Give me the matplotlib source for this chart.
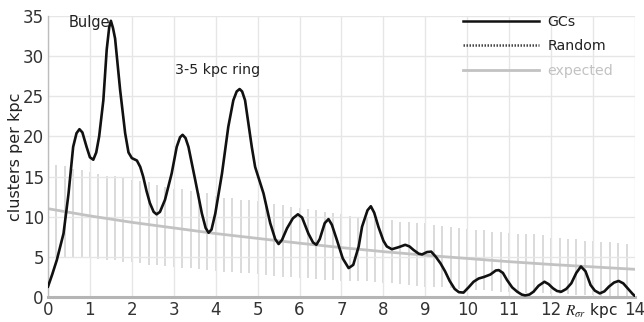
import numpy as np
import matplotlib
matplotlib.use("Agg")
import matplotlib.pyplot as plt
from matplotlib.lines import Line2D

plt.rcParams['font.family'] = ['DejaVu Sans']
plt.rcParams['mathtext.fontset'] = 'stix'

# GC radial distribution (clusters per kpc)
gc_r = [0.00, 0.10, 0.21, 0.37, 0.49, 0.60, 0.68, 0.75, 0.82, 0.92, 1.00, 1.08, 1.15, 1.22,
        1.32, 1.40, 1.46, 1.50, 1.55, 1.60, 1.66, 1.72, 1.84, 1.92, 2.00, 2.12, 2.20, 2.27,
        2.35, 2.43, 2.52, 2.59, 2.67, 2.79, 2.95, 3.07, 3.15, 3.21, 3.28, 3.35, 3.51, 3.67,
        3.76, 3.83, 3.90, 3.99, 4.15, 4.30, 4.42, 4.50, 4.57, 4.63, 4.70, 4.86, 4.94, 5.14,
        5.30, 5.42, 5.50, 5.58, 5.70, 5.84, 5.96, 6.06, 6.21, 6.32, 6.40, 6.48, 6.60, 6.69,
        6.77, 6.89, 7.03, 7.17, 7.28, 7.41, 7.49, 7.62, 7.70, 7.78, 7.88, 8.00, 8.08, 8.20,
        8.36, 8.52, 8.62, 8.72, 8.84, 8.92, 9.04, 9.14, 9.25, 9.36, 9.47, 9.58, 9.70, 9.80,
        9.91, 10.03, 10.15, 10.27, 10.40, 10.55, 10.68, 10.75, 10.85, 10.95, 11.07, 11.19,
        11.30, 11.38, 11.48, 11.58, 11.70, 11.84, 11.94, 12.04, 12.14, 12.24, 12.36, 12.48,
        12.60, 12.71, 12.82, 12.94, 13.04, 13.16, 13.27, 13.38, 13.50, 13.61, 13.72, 13.84,
        13.94, 14.00]
gc_n = [1.3, 2.8, 4.6, 7.9, 12.9, 18.7, 20.4, 20.9, 20.5, 18.7, 17.4, 17.1, 18.0, 20.0,
        24.5, 30.8, 33.6, 34.4, 33.5, 32.2, 29.0, 25.8, 20.4, 18.0, 17.3, 17.0, 16.2, 15.0,
        13.2, 11.7, 10.6, 10.3, 10.6, 12.1, 15.4, 18.7, 19.9, 20.2, 19.8, 18.7, 14.6, 10.4,
        8.6, 8.0, 8.4, 10.4, 15.4, 21.2, 24.5, 25.6, 25.9, 25.6, 24.5, 18.7, 16.2, 12.9,
        9.2, 7.2, 6.6, 7.1, 8.55, 9.8, 10.3, 9.9, 7.9, 6.8, 6.5, 7.2, 9.2, 9.7,
        9.0, 7.1, 4.8, 3.6, 4.0, 6.3, 8.75, 10.8, 11.3, 10.5, 8.75, 7.0, 6.3, 5.95,
        6.2, 6.5, 6.3, 5.85, 5.4, 5.3, 5.6, 5.65, 5.0, 4.2, 3.2, 2.0, 1.0, 0.6,
        0.55, 1.2, 1.9, 2.3, 2.5, 2.8, 3.3, 3.35, 3.0, 2.1, 1.2, 0.66,
        0.3, 0.2, 0.3, 0.66, 1.4, 1.9, 1.6, 1.1, 0.75, 0.65, 1.0, 1.7,
        3.0, 3.8, 3.2, 1.5, 0.8, 0.45, 0.7, 1.3, 1.8, 2.0, 1.7, 1.0,
        0.4, 0.1]

# expected (smooth) distribution read at integer radii
exp_r = [0, 1, 2, 3, 4, 5, 6, 7, 8, 9, 10, 11, 12, 13, 14]
exp_n = [11.0, 10.1, 9.3, 8.6, 7.9, 7.3, 6.7, 6.15, 5.65, 5.2, 4.8, 4.4, 4.05, 3.75, 3.45]

# random catalogue ranges (every 0.2 kpc from 0.2 to 13.8)
rand_r = np.round(np.arange(1, 70) * 0.2, 1)
rand_hi = [16.4, 16.3, 16.0, 15.8, 15.6, 15.3, 15.1, 15.1, 14.8, 14.6,
           14.4, 14.3, 13.9, 13.7, 13.5, 13.4, 13.2, 13.0, 12.9, 12.6,
           12.3, 12.3, 12.1, 12.1, 11.9, 11.7, 11.6, 11.5, 11.25, 11.1,
           10.9, 10.8, 10.6, 10.5, 10.3, 10.1, 10.0, 9.9, 9.7, 9.6,
           9.6, 9.4, 9.3, 9.2, 9.2, 9.0, 8.85, 8.7, 8.65, 8.5,
           8.4, 8.3, 8.1, 8.1, 8.0, 7.9, 7.85, 7.8, 7.7, 7.4,
           7.3, 7.25, 7.25, 7.0, 7.0, 6.9, 6.8, 6.7, 6.6]
rand_lo = [5.0, 5.0, 5.0, 5.0, 4.9, 4.7, 4.6, 4.55, 4.3, 4.3,
           4.2, 4.0, 4.0, 3.8, 3.7, 3.55, 3.55, 3.45, 3.36, 3.25,
           3.15, 3.15, 3.05, 2.95, 2.85, 2.74, 2.6, 2.53, 2.5, 2.4,
           2.33, 2.2, 2.1, 2.1, 2.05, 2.0, 2.0, 1.95, 1.9, 1.8,
           1.7, 1.6, 1.5, 1.4, 1.3, 1.3, 1.2, 1.08, 1.05, 0.95,
           0.87, 0.85, 0.8, 0.66, 0.66, 0.6, 0.55, 0.46, 0.46, 0.4,
           0.4, 0.35, 0.25, 0.25, 0.22, 0.15, 0.15, 0.15, 0.1]

xticks = [0, 1, 2, 3, 4, 5, 6, 7, 8, 9, 10, 11, 12, 14]
yticks = [0, 5, 10, 15, 20, 25, 30, 35]

fig = plt.figure(figsize=(6.44, 3.22), dpi=100)
ax = fig.add_axes([48/644, 25/322, 587/644, 281/322])

ax.set_xlim(0, 14)
ax.set_ylim(0, 35)
ax.set_xticks(range(0, 15))
ax.set_yticks(yticks)
ax.set_xticklabels([str(t) if t in xticks else '' for t in range(0, 15)])
ax.grid(True, color='#e6e6e6', lw=1.0, zorder=0)
ax.tick_params(length=0, labelsize=12, colors='#333333', pad=3)
for s in ['top', 'right']:
    ax.spines[s].set_visible(False)
ax.spines['left'].set_color('#bdbdbd')
ax.spines['left'].set_linewidth(1.0)
ax.spines['bottom'].set_color('#b5b5b5')
ax.spines['bottom'].set_linewidth(2.2)

ax.vlines(rand_r, rand_lo, rand_hi, colors='#d8d8d8', lw=1.3, zorder=1)
ax.plot(exp_r, exp_n, color='#c2c2c2', lw=2.0, zorder=2)
ax.plot(gc_r, gc_n, color='#111111', lw=1.9, zorder=3, solid_joinstyle='round')

ax.set_ylabel('clusters per kpc', fontsize=11.5, color='#222222')
ax.yaxis.set_label_coords(-0.043, 0.5)
ax.text(0.48, 34.2, 'Bulge', fontsize=10.5, color='#222222', va='center', ha='left')
ax.text(3.03, 28.3, '3-5 kpc ring', fontsize=10.2, color='#222222', va='center', ha='left')
ax.text(12.95, -0.55, r'$R_{\sigma r}$ kpc', fontsize=11, color='#222222',
        ha='center', va='top')

handles = [Line2D([], [], color='#111111', lw=1.8),
           Line2D([], [], color='#444444', lw=1.8, ls=(0, (0.6, 0.6))),
           Line2D([], [], color='#c2c2c2', lw=2.0)]
leg = ax.legend(handles, ['GCs', 'Random', 'expected'], loc='upper right',
                bbox_to_anchor=(0.985, 1.05), frameon=False, fontsize=10.2,
                handlelength=5.4, handletextpad=0.6, labelspacing=0.75,
                labelcolor=['#222222', '#222222', '#c2c2c2'])

fig.savefig('out.png', dpi=100)
